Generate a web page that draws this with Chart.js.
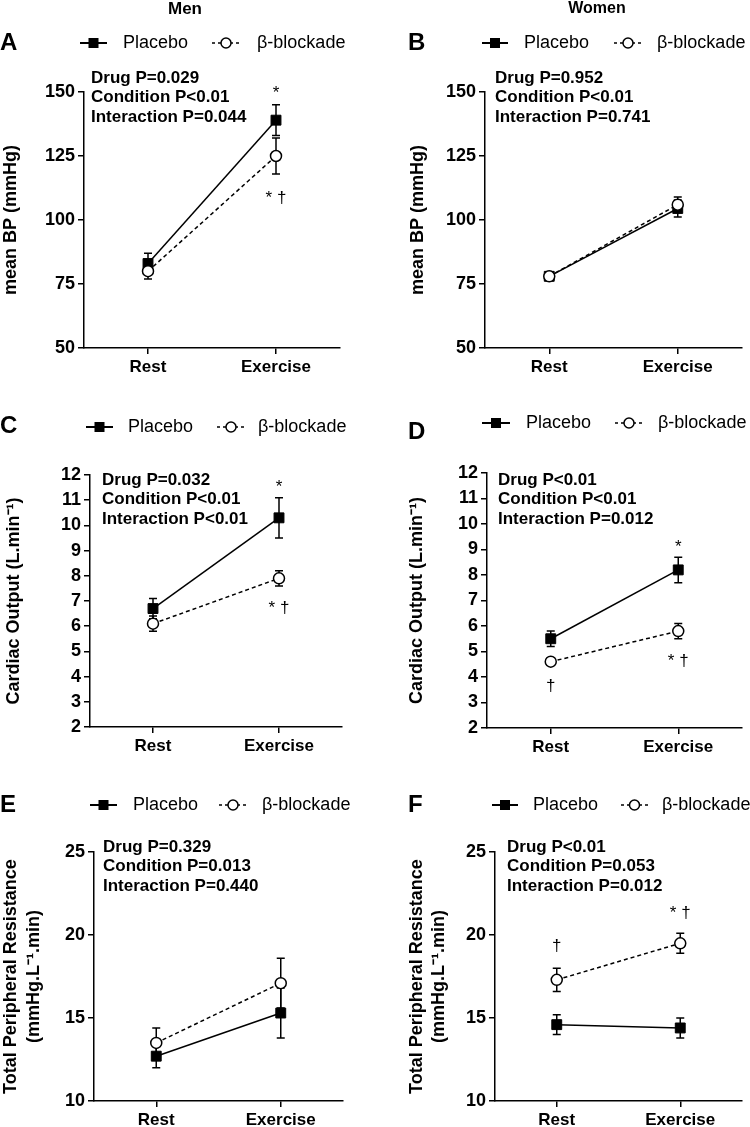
<!DOCTYPE html>
<html><head><meta charset="utf-8">
<script src="https://cdn.jsdelivr.net/npm/chart.js@4.4.1/dist/chart.umd.min.js"></script>
<style>
html,body{margin:0;padding:0;background:#fff;}
#wrap{position:relative;width:750px;height:1127px;overflow:hidden;background:#fff;}
canvas{position:absolute;}
</style></head><body><div id="wrap"></div>
<script>
const FONT = '"Liberation Sans", Arial, Helvetica, sans-serif';

// ---------- data ----------
const categories = ['Rest', 'Exercise'];
const seriesNames = ['Placebo', 'β-blockade'];
const columnTitles = ['Men', 'Women'];
const panelLetters = ['A', 'B', 'C', 'D', 'E', 'F'];

// mean BP (mmHg)
const bpMenPlacebo = [83, 139];
const bpMenPlaceboSEM = [4, 6];
const bpMenBeta = [80, 125];
const bpMenBetaSEM = [3, 7];
const bpWomenPlacebo = [78, 104.5];
const bpWomenPlaceboSEM = [1.5, 3.3];
const bpWomenBeta = [78, 106];
const bpWomenBetaSEM = [1.5, 3];
const bpTicks = [50, 75, 100, 125, 150];

// Cardiac output (L.min-1)
const coMenPlacebo = [6.7, 10.3];
const coMenPlaceboSEM = [0.4, 0.8];
const coMenBeta = [6.1, 7.9];
const coMenBetaSEM = [0.3, 0.3];
const coWomenPlacebo = [5.5, 8.2];
const coWomenPlaceboSEM = [0.3, 0.5];
const coWomenBeta = [4.6, 5.8];
const coWomenBetaSEM = [0.1, 0.3];
const coTicks = [2, 3, 4, 5, 6, 7, 8, 9, 10, 11, 12];

// Total peripheral resistance
const tprMenPlacebo = [12.7, 15.3];
const tprMenPlaceboSEM = [0.7, 1.5];
const tprMenBeta = [13.5, 17.1];
const tprMenBetaSEM = [0.9, 1.5];
const tprWomenPlacebo = [14.6, 14.4];
const tprWomenPlaceboSEM = [0.6, 0.6];
const tprWomenBeta = [17.3, 19.5];
const tprWomenBetaSEM = [0.7, 0.6];
const tprTicks = [10, 15, 20, 25];

const statsA = ['Drug P=0.029', 'Condition P<0.01', 'Interaction P=0.044'];
const statsB = ['Drug P=0.952', 'Condition P<0.01', 'Interaction P=0.741'];
const statsC = ['Drug P=0.032', 'Condition P<0.01', 'Interaction P<0.01'];
const statsD = ['Drug P<0.01', 'Condition P<0.01', 'Interaction P=0.012'];
const statsE = ['Drug P=0.329', 'Condition P=0.013', 'Interaction P=0.440'];
const statsF = ['Drug P<0.01', 'Condition P=0.053', 'Interaction P=0.012'];

const titleBP = 'mean BP (mmHg)';
const titleCO = 'Cardiac Output (L.min\u207B\u00B9)';
const titleTPR = ['Total Peripheral Resistance', '(mmHg.L\u207B\u00B9.min)'];

// ---------- layout ----------
const rowTop = [0, 378, 753];
const rowH = [385, 385, 374];
const colLeft = [0, 375];

const panels = [
  { row:0, col:0, yTitle:titleBP, ticks:bpTicks, pl:bpMenPlacebo, plE:bpMenPlaceboSEM, bb:bpMenBeta, bbE:bpMenBetaSEM, stats:statsA,
    yW:84, xH:37, top:92, right:35, tPad:0, tLH:1.2, leg:[43,80,107,123,212,240,257], letter:[0,43], st:[91,78],
    marks:[{c:1,t:'*',v:149.5},{c:1,t:'* \u2020',v:108.6}], heading:[185,9,0] },
  { row:0, col:1, yTitle:titleBP, ticks:bpTicks, pl:bpWomenPlacebo, plE:bpWomenPlaceboSEM, bb:bpWomenBeta, bbE:bpWomenBetaSEM, stats:statsB,
    yW:110, xH:37, top:92, right:8, tPad:32, tLH:1.2, leg:[43,107,133,149,239,267,282], letter:[33,43], st:[120,78],
    marks:[], heading:[222,9,1] },
  { row:1, col:0, yTitle:titleCO, ticks:coTicks, pl:coMenPlacebo, plE:coMenPlaceboSEM, bb:coMenBeta, bbE:coMenBetaSEM, stats:statsC,
    yW:90, xH:36, top:97, right:33, tPad:3, tLH:1.2, leg:[49,86,113,128,217,245,258], letter:[0,48], st:[102,102],
    marks:[{c:1,t:'*',v:11.5},{c:1,t:'* \u2020',v:6.7}] },
  { row:1, col:1, yTitle:titleCO, ticks:coTicks, pl:coWomenPlacebo, plE:coWomenPlaceboSEM, bb:coWomenBeta, bbE:coWomenBetaSEM, stats:statsD,
    yW:112, xH:35, top:95, right:7, tPad:31.5, tLH:1.2, leg:[45,107,135,151,240,268,283], letter:[33,54], st:[123,102],
    marks:[{c:1,t:'*',v:9.1},{c:1,t:'* \u2020',v:4.6},{c:0,t:'\u2020',v:3.65}] },
  { row:2, col:0, yTitle:titleTPR, ticks:tprTicks, pl:tprMenPlacebo, plE:tprMenPlaceboSEM, bb:tprMenBeta, bbE:tprMenBetaSEM, stats:statsE,
    yW:94, xH:26, top:99, right:32, tPad:0, tLH:1.25, leg:[52,90,117,133,219,247,262], letter:[0,52], st:[103,94],
    marks:[] },
  { row:2, col:1, yTitle:titleTPR, ticks:tprTicks, pl:tprWomenPlacebo, plE:tprWomenPlaceboSEM, bb:tprWomenBeta, bbE:tprWomenBetaSEM, stats:statsF,
    yW:120, xH:26, top:99, right:6, tPad:30.5, tLH:1.25, leg:[52,117,143,158,246,273,287], letter:[33,52], st:[132,94],
    marks:[{c:0,t:'\u2020',v:19.3},{c:1,t:'* \u2020',v:21.3}] }
];

Chart.defaults.font.family = FONT;
Chart.defaults.color = '#000';

const errorBars = {
  id: 'errorBars',
  beforeDatasetsDraw(chart) {
    const ctx = chart.ctx, ys = chart.scales.y;
    chart.data.datasets.forEach((ds, di) => {
      const meta = chart.getDatasetMeta(di);
      ds.err.forEach((e, i) => {
        const x = meta.data[i].x, v = ds.data[i];
        const y1 = ys.getPixelForValue(v + e), y2 = ys.getPixelForValue(v - e);
        ctx.save();
        ctx.strokeStyle = '#000'; ctx.lineWidth = 1.5;
        ctx.beginPath();
        ctx.moveTo(x, y1); ctx.lineTo(x, y2);
        ctx.moveTo(x - 4, y1); ctx.lineTo(x + 4, y1);
        ctx.moveTo(x - 4, y2); ctx.lineTo(x + 4, y2);
        ctx.stroke();
        ctx.restore();
      });
    });
  }
};

function drawLegend(ctx, L) {
  const y = L[0];
  ctx.save();
  ctx.strokeStyle = '#000'; ctx.lineWidth = 2;
  ctx.beginPath(); ctx.moveTo(L[1], y); ctx.lineTo(L[2], y); ctx.stroke();
  const pc = (L[1] + L[2]) / 2;
  ctx.fillStyle = '#000'; ctx.fillRect(pc - 5, y - 5, 10, 10);
  ctx.lineWidth = 1.5; ctx.setLineDash([3, 3]);
  ctx.beginPath(); ctx.moveTo(L[4], y); ctx.lineTo(L[5], y); ctx.stroke();
  ctx.setLineDash([]);
  const bc = (L[4] + L[5]) / 2;
  ctx.beginPath(); ctx.arc(bc, y, 5, 0, 2 * Math.PI);
  ctx.fillStyle = '#fff'; ctx.fill(); ctx.stroke();
  ctx.fillStyle = '#000'; ctx.font = '18px ' + FONT;
  ctx.textBaseline = 'middle'; ctx.textAlign = 'left';
  ctx.fillText(seriesNames[0], L[3], y);
  ctx.fillText(seriesNames[1], L[6], y);
  ctx.restore();
}

const decorations = {
  id: 'decorations',
  afterDraw(chart) {
    const p = chart.options.plugins.decorations.panel;
    const ctx = chart.ctx;
    ctx.save();
    ctx.fillStyle = '#000';
    ctx.textBaseline = 'middle';
    // heading
    if (p.heading) {
      ctx.font = 'bold ' + (p.heading[2] === 0 ? 17 : 16) + 'px ' + FONT;
      ctx.textAlign = 'center';
      ctx.fillText(columnTitles[p.heading[2]], p.heading[0], p.heading[1]);
    }
    // panel letter
    ctx.font = 'bold 24px ' + FONT; ctx.textAlign = 'left';
    ctx.fillText(panelLetters[p.row * 2 + p.col], p.letter[0], p.letter[1]);
    // stats
    ctx.font = 'bold 17px ' + FONT;
    p.stats.forEach((s, i) => ctx.fillText(s, p.st[0], p.st[1] + i * 19.5));
    // significance marks
    ctx.font = '17px ' + FONT; ctx.textAlign = 'center';
    const xs = chart.scales.x, ys = chart.scales.y;
    p.marks.forEach(m => ctx.fillText(m.t, xs.getPixelForValue(m.c), ys.getPixelForValue(m.v)));
    ctx.restore();
    drawLegend(ctx, p.leg);
  }
};

const wrap = document.getElementById('wrap');
panels.forEach(p => {
  const cv = document.createElement('canvas');
  cv.width = 375; cv.height = rowH[p.row];
  cv.style.left = colLeft[p.col] + 'px';
  cv.style.top = rowTop[p.row] + 'px';
  cv.style.width = '375px'; cv.style.height = rowH[p.row] + 'px';
  wrap.appendChild(cv);
  const axisGrid = { display: true, drawOnChartArea: false, drawTicks: true, tickLength: 6, color: '#000', lineWidth: 1.5 };
  const axisBorder = { display: true, color: '#000', width: 1.5 };
  new Chart(cv, {
    type: 'line',
    data: {
      labels: categories,
      datasets: [
        { label: seriesNames[0], data: p.pl, err: p.plE, borderColor: '#000', borderWidth: 1.5, tension: 0, fill: false,
          pointStyle: 'rect', pointRadius: 7, pointBackgroundColor: '#000', pointBorderColor: '#000', pointBorderWidth: 1, order: 1 },
        { label: seriesNames[1], data: p.bb, err: p.bbE, borderColor: '#000', borderWidth: 1.5, borderDash: [4, 3], tension: 0, fill: false,
          pointStyle: 'circle', pointRadius: 5.5, pointBackgroundColor: '#fff', pointBorderColor: '#000', pointBorderWidth: 1.5, order: 0 }
      ]
    },
    options: {
      responsive: false, animation: false, devicePixelRatio: 1,
      layout: { padding: { top: p.top, right: p.right, left: 0, bottom: 0 } },
      plugins: { legend: { display: false }, tooltip: { enabled: false }, decorations: { panel: p } },
      scales: {
        x: {
          type: 'category', offset: true, grid: axisGrid, border: axisBorder,
          ticks: { color: '#000', font: { size: 17, weight: 'bold' }, padding: 3.5, maxRotation: 0, autoSkip: false },
          afterFit(s) { s.height = p.xH; }
        },
        y: {
          min: p.ticks[0], max: p.ticks[p.ticks.length - 1], grid: axisGrid, border: axisBorder,
          ticks: { color: '#000', font: { size: 18, weight: 'bold' }, padding: 3, autoSkip: false },
          afterBuildTicks(s) { s.ticks = p.ticks.map(v => ({ value: v })); },
          afterFit(s) { s.width = p.yW; },
          title: { display: true, text: p.yTitle, color: '#000', font: { size: 18, weight: 'bold', lineHeight: p.tLH }, padding: { top: p.tPad, bottom: 0 } }
        }
      }
    },
    plugins: [errorBars, decorations]
  });
});
</script></body></html>
